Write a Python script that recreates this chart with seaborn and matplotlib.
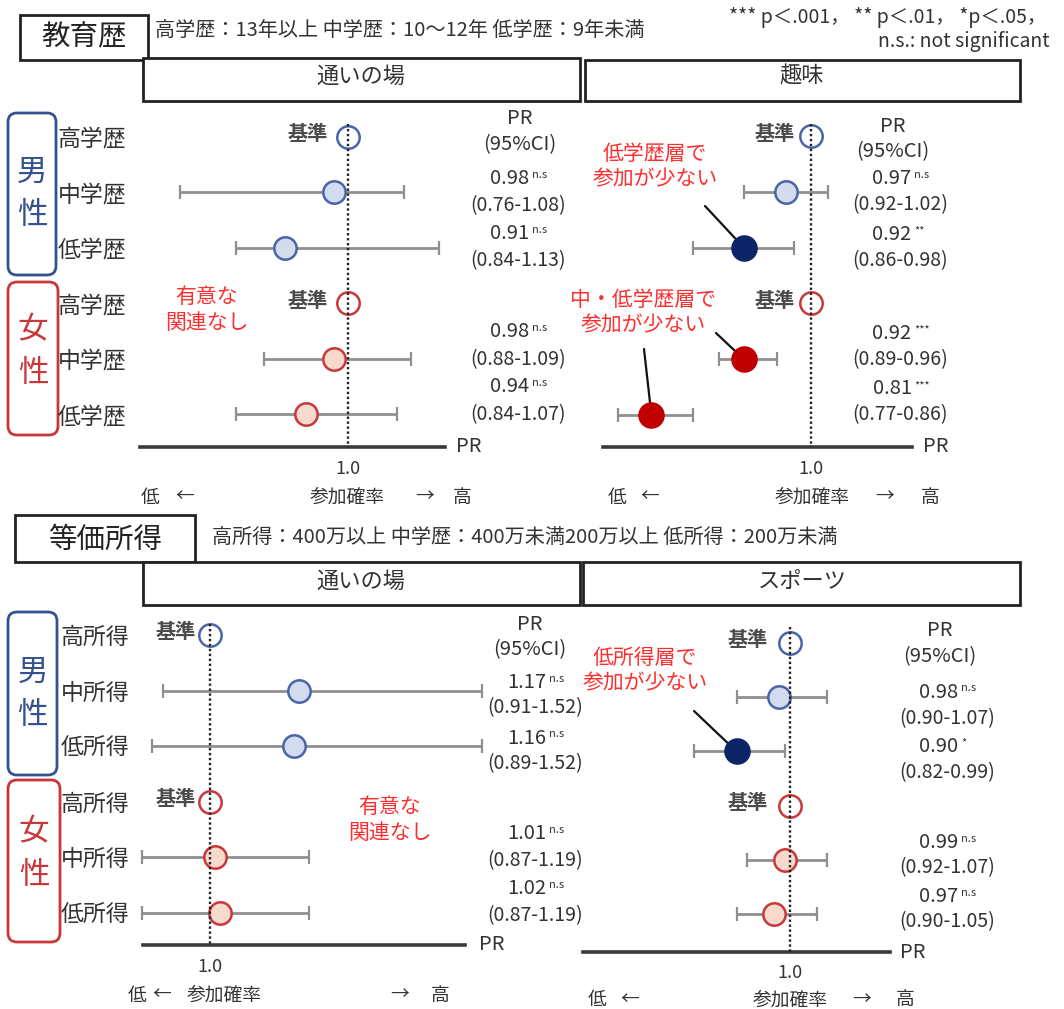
import numpy as np
import pandas as pd
import matplotlib
matplotlib.use("Agg")
import matplotlib.pyplot as plt
from matplotlib.patches import Rectangle, FancyBboxPatch
import seaborn as sns

sns.set_theme(style="white")
plt.rcParams["font.family"] = ["Noto Sans CJK JP", "DejaVu Sans"]

# ---------------- data ----------------
sex = ["男", "男", "男", "女", "女", "女"]
edu_levels = ["高学歴", "中学歴", "低学歴", "高学歴", "中学歴", "低学歴"]
inc_levels = ["高所得", "中所得", "低所得", "高所得", "中所得", "低所得"]

# 教育歴 × 通いの場
edu_kayoi_pr = [1.00, 0.98, 0.91, 1.00, 0.98, 0.94]
edu_kayoi_lo = [np.nan, 0.76, 0.84, np.nan, 0.88, 0.84]
edu_kayoi_hi = [np.nan, 1.08, 1.13, np.nan, 1.09, 1.07]
edu_kayoi_sig = ["ref", "n.s", "n.s", "ref", "n.s", "n.s"]

# 教育歴 × 趣味
edu_hobby_pr = [1.00, 0.97, 0.92, 1.00, 0.92, 0.81]
edu_hobby_lo = [np.nan, 0.92, 0.86, np.nan, 0.89, 0.77]
edu_hobby_hi = [np.nan, 1.02, 0.98, np.nan, 0.96, 0.86]
edu_hobby_sig = ["ref", "n.s", "**", "ref", "***", "***"]

# 等価所得 × 通いの場
inc_kayoi_pr = [1.00, 1.17, 1.16, 1.00, 1.01, 1.02]
inc_kayoi_lo = [np.nan, 0.91, 0.89, np.nan, 0.87, 0.87]
inc_kayoi_hi = [np.nan, 1.52, 1.52, np.nan, 1.19, 1.19]
inc_kayoi_sig = ["ref", "n.s", "n.s", "ref", "n.s", "n.s"]

# 等価所得 × スポーツ
inc_sport_pr = [1.00, 0.98, 0.90, 1.00, 0.99, 0.97]
inc_sport_lo = [np.nan, 0.90, 0.82, np.nan, 0.92, 0.90]
inc_sport_hi = [np.nan, 1.07, 0.99, np.nan, 1.07, 1.05]
inc_sport_sig = ["ref", "n.s", "*", "ref", "n.s", "n.s"]

# ---------------- style ----------------
W, H = 1064, 1009
TXT = "#333333"
RED_TXT = "#FF2E2E"
BLUE = "#34528F"
RED = "#C8373A"
STYLE = {
    ("男", "ref"): ("white", "#4A65A6"),
    ("男", "ns"): ("#D3DCEF", "#4A65A6"),
    ("男", "sig"): ("#0B2566", "#0B2566"),
    ("女", "ref"): ("white", "#C8373A"),
    ("女", "ns"): ("#F7DACD", "#C8373A"),
    ("女", "sig"): ("#C00000", "#C00000"),
}

fig = plt.figure(figsize=(W / 100, H / 100), dpi=100)
fig.patch.set_facecolor("white")

# overlay in pixel coordinates for frames and text
ov = fig.add_axes([0, 0, 1, 1])
ov.set_xlim(0, W)
ov.set_ylim(H, 0)
ov.axis("off")
ov.patch.set_alpha(0)


def box(x0, y0, x1, y1, lw=2.0, ec="#222222"):
    ov.add_patch(Rectangle((x0, y0), x1 - x0, y1 - y0, fc="white", ec=ec, lw=lw, zorder=2))


def group_box(x0, y0, x1, y1, color, label, ys):
    ov.add_patch(FancyBboxPatch((x0, y0), x1 - x0, y1 - y0,
                                boxstyle="round,pad=0,rounding_size=9",
                                fc="none", ec=color, lw=2.0, zorder=2))
    cx = (x0 + x1) / 2
    for ch, yy in zip(label, ys):
        ov.text(cx, yy, ch, ha="center", va="center", fontsize=22, color=color)


# ---- section titles / headers ----
box(20, 15, 148, 60)
ov.text(84, 37, "教育歴", ha="center", va="center", fontsize=20.5, color="#222")
ov.text(155, 30, "高学歴：13年以上 中学歴：10～12年 低学歴：9年未満",
        ha="left", va="center", fontsize=14.5, color=TXT)
ov.text(1046, 18, "*** p＜.001， ** p＜.01， *p＜.05，", ha="right", va="center",
        fontsize=14, color=TXT)
ov.text(1050, 42, "n.s.: not significant", ha="right", va="center",
        fontsize=14, color=TXT)
box(143, 58, 580, 101)
ov.text(361, 76, "通いの場", ha="center", va="center", fontsize=16, color=TXT)
box(585, 60, 1020, 101)
ov.text(802, 76, "趣味", ha="center", va="center", fontsize=16, color=TXT)

box(15, 515, 195, 562)
ov.text(105, 540, "等価所得", ha="center", va="center", fontsize=20.5, color="#222")
ov.text(212, 537, "高所得：400万以上 中学歴：400万未満200万以上 低所得：200万未満",
        ha="left", va="center", fontsize=14.5, color=TXT)
box(143, 562, 580, 605)
ov.text(361, 581, "通いの場", ha="center", va="center", fontsize=16, color=TXT)
box(583, 562, 1020, 605)
ov.text(802, 581, "スポーツ", ha="center", va="center", fontsize=16, color=TXT)

group_box(8, 113, 56, 275, BLUE, "男性", [172, 216])
group_box(8, 282, 58, 435, RED, "女性", [330, 373])
group_box(8, 612, 57, 775, BLUE, "男性", [672, 715])
group_box(8, 780, 60, 942, RED, "女性", [832, 876])

# ---------------- panels ----------------
panels = [
    dict(pr=edu_kayoi_pr, lo=edu_kayoi_lo, hi=edu_kayoi_hi, sig=edu_kayoi_sig,
         rows=edu_levels, left=140, right=445, axis_y=447, one=348, scale=700,
         row0=137, dy=55.4, top=118, kijun_x=328, val_x=518, hdr=(520, 119, 145),
         off_m=(-14, 13), off_f=(-27, 1), pr_lab=(469, 446),
         foot=[(150, "低"), (185, "←"), (347, "参加確率"), (425, "→"), (462, "高")], foot_y=497),
    dict(pr=edu_hobby_pr, lo=edu_hobby_lo, hi=edu_hobby_hi, sig=edu_hobby_sig,
         rows=None, left=603, right=912, axis_y=447, one=811, scale=840,
         row0=136, dy=55.8, top=118, kijun_x=795, val_x=900, hdr=(893, 127, 152),
         off_m=(-13, 13), off_f=(-26, 0), pr_lab=(936, 446),
         foot=[(617, "低"), (650, "←"), (812, "参加確率"), (885, "→"), (930, "高")], foot_y=497),
    dict(pr=inc_kayoi_pr, lo=inc_kayoi_lo, hi=inc_kayoi_hi, sig=inc_kayoi_sig,
         rows=inc_levels, left=143, right=465, axis_y=945, one=210, scale=523,
         row0=635, dy=55.6, top=618, kijun_x=196, val_x=535, hdr=(530, 625, 650),
         off_m=(-8, 17), off_f=(-24, 3), pr_lab=(492, 944),
         foot=[(137, "低"), (162, "←"), (224, "参加確率"), (400, "→"), (440, "高")], foot_y=995),
    dict(pr=inc_sport_pr, lo=inc_sport_lo, hi=inc_sport_hi, sig=inc_sport_sig,
         rows=None, left=583, right=890, axis_y=952, one=790, scale=535,
         row0=643, dy=54.2, top=622, kijun_x=768, val_x=947, hdr=(940, 630, 657),
         off_m=(-5, 21), off_f=(-17, 8), pr_lab=(913, 952),
         foot=[(597, "低"), (630, "←"), (790, "参加確率"), (862, "→"), (905, "高")], foot_y=1000),
]

axes = []
for p in panels:
    df = pd.DataFrame({"sex": sex, "pr": p["pr"], "lo": p["lo"], "hi": p["hi"],
                       "sig": p["sig"], "row": np.arange(6)})
    df["kind"] = np.where(df["sig"] == "ref", "ref",
                          np.where(df["sig"] == "n.s", "ns", "sig"))

    ax = fig.add_axes([p["left"] / W, 1 - p["axis_y"] / H,
                       (p["right"] - p["left"]) / W, (p["axis_y"] - p["top"]) / H])
    ax.patch.set_alpha(0)
    r_bot = (p["axis_y"] - p["row0"]) / p["dy"]
    r_top = (p["top"] - p["row0"]) / p["dy"]
    ax.set_ylim(r_bot, r_top)
    ax.set_xlim(1 + (p["left"] - p["one"]) / p["scale"],
                1 + (p["right"] - p["one"]) / p["scale"])

    # confidence intervals
    ci = df.dropna(subset=["lo"])
    ax.errorbar(ci["pr"], ci["row"], xerr=[ci["pr"] - ci["lo"], ci["hi"] - ci["pr"]],
                fmt="none", ecolor="#8F8F8F", elinewidth=2.0, capsize=5, capthick=1.6,
                zorder=2, clip_on=False)

    # points
    for (sx, kind), (fc, ec) in STYLE.items():
        sub = df[(df["sex"] == sx) & (df["kind"] == kind)]
        if len(sub) == 0:
            continue
        size = 300 if kind == "sig" else 260
        sns.scatterplot(data=sub, x="pr", y="row", ax=ax, s=size, color=fc,
                        edgecolor=ec, linewidth=1.8, zorder=4, legend=False,
                        clip_on=False)

    # reference line at PR = 1.0
    ax.vlines(1.0, r_top + 0.1, r_bot, colors="#222222", linestyles=(0, (1, 1.1)),
              lw=1.7, zorder=5)

    for s in ["top", "right", "left"]:
        ax.spines[s].set_visible(False)
    ax.spines["bottom"].set_color("#3a3a3a")
    ax.spines["bottom"].set_linewidth(2.6)
    ax.set_xticks([1.0], ["1.0"])
    ax.tick_params(axis="x", length=0, pad=9, labelsize=13, labelcolor=TXT)
    if p["rows"] is not None:
        ax.set_yticks(range(6), p["rows"])
        ax.tick_params(axis="y", length=0, pad=10, labelsize=16.5, labelcolor=TXT)
    else:
        ax.set_yticks([])
    ax.set_xlabel("")
    ax.set_ylabel("")
    ax.grid(False)

    # text: PR header, values, reference marks
    hx, hy1, hy2 = p["hdr"]
    ov.text(hx, hy1, "PR", ha="center", va="center", fontsize=14.5, color=TXT)
    ov.text(hx, hy2, "(95%CI)", ha="center", va="center", fontsize=14.5, color=TXT)
    for i, r in df.iterrows():
        ypx = p["row0"] + r["row"] * p["dy"]
        if r["kind"] == "ref":
            ov.text(p["kijun_x"], ypx - 3, "基準", ha="right", va="center",
                    fontsize=14.5, fontweight="bold", color="#4a4a4a")
            continue
        dv, dc = p["off_m"] if r["sex"] == "男" else p["off_f"]
        t = ov.text(p["val_x"] - 8, ypx + dv, f"{r['pr']:.2f}", ha="center",
                    va="center", fontsize=14.5, color=TXT)
        ov.annotate(r["sig"], xy=(1, 0.92), xycoords=t, xytext=(2, 0),
                    textcoords="offset points", ha="left", va="top",
                    fontsize=8, color=TXT)
        ov.text(p["val_x"], ypx + dc, f"({r['lo']:.2f}-{r['hi']:.2f})",
                ha="center", va="center", fontsize=14, color=TXT)

    ov.text(p["pr_lab"][0], p["pr_lab"][1], "PR", ha="center", va="center",
            fontsize=14.5, color=TXT)
    for fx, s in p["foot"]:
        ov.text(fx, p["foot_y"], s, ha="center", va="center", fontsize=13.5, color=TXT)
    axes.append((ax, df, p))

# ---------------- callouts ----------------
ov.text(207, 310, "有意な\n関連なし", ha="center", va="center", fontsize=15,
        color=RED_TXT, linespacing=1.2)
ov.text(390, 820, "有意な\n関連なし", ha="center", va="center", fontsize=15,
        color=RED_TXT, linespacing=1.2)
ov.text(655, 167, "低学歴層で\n参加が少ない", ha="center", va="center", fontsize=15,
        color=RED_TXT, linespacing=1.2)
ov.text(643, 313, "中・低学歴層で\n参加が少ない", ha="center", va="center", fontsize=15,
        color=RED_TXT, linespacing=1.2)
ov.text(645, 671, "低所得層で\n参加が少ない", ha="center", va="center", fontsize=15,
        color=RED_TXT, linespacing=1.2)


def pointer(ax, df, row, start):
    r = df.iloc[row]
    ax.annotate("", xy=(r["pr"], r["row"]), xycoords="data",
                xytext=start, textcoords=ov.transData,
                arrowprops=dict(arrowstyle="-", color="#111111", lw=1.6,
                                shrinkA=0, shrinkB=0), zorder=3)


ax2, df2, _ = axes[1]
pointer(ax2, df2, 2, (705, 206))
pointer(ax2, df2, 4, (716, 333))
pointer(ax2, df2, 5, (644, 349))
ax4, df4, _ = axes[3]
pointer(ax4, df4, 2, (694, 711))

fig.savefig("out.png", dpi=100, facecolor="white")
